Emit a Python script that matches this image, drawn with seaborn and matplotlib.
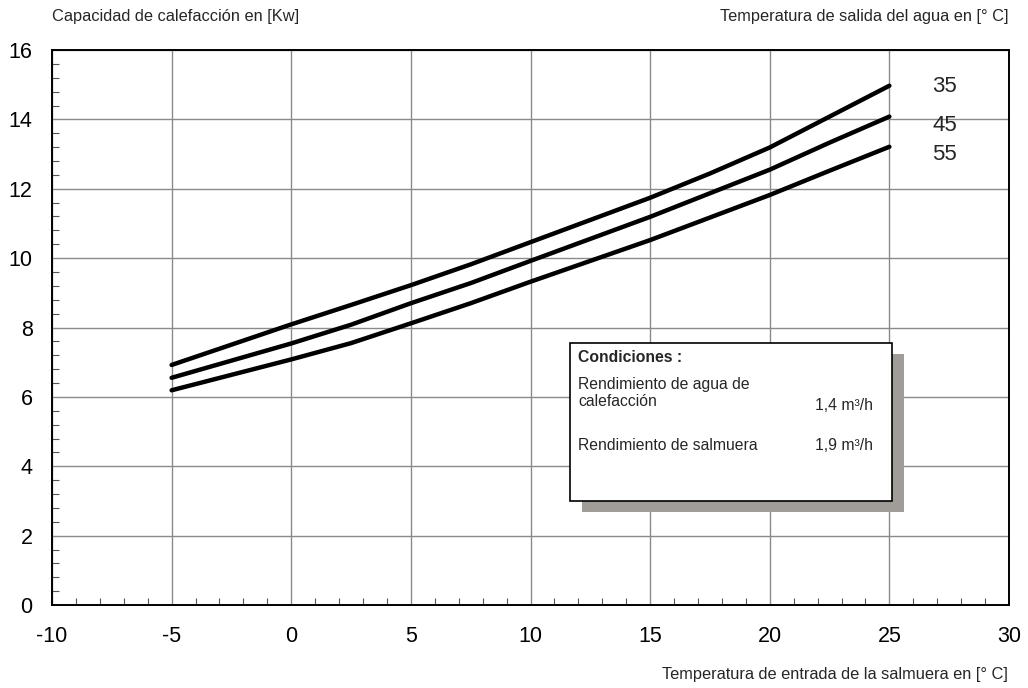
import matplotlib
matplotlib.use("Agg")
import matplotlib.pyplot as plt
import matplotlib.patches as mpatches
from matplotlib.ticker import MultipleLocator
import seaborn as sns
import pandas as pd

# ---- data ----
brine_temp = [-5, 0, 2.5, 5, 7.5, 10, 15, 17.5, 20, 22.5, 25]
cap_35 = [6.92, 8.09, 8.65, 9.22, 9.82, 10.46, 11.74, 12.44, 13.19, 14.08, 14.97]
cap_45 = [6.55, 7.54, 8.08, 8.70, 9.28, 9.92, 11.19, 11.87, 12.55, 13.33, 14.08]
cap_55 = [6.19, 7.08, 7.55, 8.12, 8.70, 9.32, 10.52, 11.17, 11.82, 12.52, 13.21]
series_labels = ["35", "45", "55"]
x_ticks = [-10, -5, 0, 5, 10, 15, 20, 25, 30]
y_ticks = [0, 2, 4, 6, 8, 10, 12, 14, 16]

rows = []
for lab, vals in zip(series_labels, [cap_35, cap_45, cap_55]):
    for x, v in zip(brine_temp, vals):
        rows.append({"x": x, "y": v, "serie": lab})
df = pd.DataFrame(rows)

sns.set_style("white")
plt.rcParams['font.family'] = ['Liberation Sans', 'DejaVu Sans']

fig = plt.figure(figsize=(10.28, 6.88), dpi=100)
ax = fig.add_axes([52/1028, 83/688, 957/1028, 555/688])

sns.lineplot(data=df, x="x", y="y", hue="serie", palette=["black"] * 3,
             linewidth=3.2, legend=False, ax=ax, zorder=3)

ax.set_xlim(-10, 30)
ax.set_ylim(0, 16)
ax.set_xticks(x_ticks)
ax.set_yticks(y_ticks)
ax.set_xticklabels([str(t) for t in x_ticks])
ax.set_yticklabels([str(t) for t in y_ticks])
ax.xaxis.set_minor_locator(MultipleLocator(1))
ax.yaxis.set_minor_locator(MultipleLocator(0.4))
ax.tick_params(axis="both", which="major", length=0, labelsize=15.5, colors="black")
ax.tick_params(axis="x", which="major", pad=15)
ax.tick_params(axis="y", which="major", pad=14)
ax.tick_params(axis="x", which="minor", direction="in", length=5, width=0.8, bottom=True, top=False, color="#555555")
ax.tick_params(axis="y", which="minor", direction="in", length=5, width=0.8, left=True, right=False, color="#555555")
ax.grid(True, which="major", color="#8a8a8a", linewidth=1.0)
ax.set_xlabel("")
ax.set_ylabel("")
for s in ax.spines.values():
    s.set_visible(True)
    s.set_color("black")
    s.set_linewidth(1.4)

# curve labels
label_y = [14.96, 13.82, 13.0]
for lab, yy in zip(series_labels, label_y):
    ax.text(27.3, yy, lab, fontsize=16, ha="center", va="center", zorder=4)

# axis titles
fig.text(52/1028, 1 - 17/688, "Capacidad de calefacción en [Kw]", fontsize=11.8, ha="left", va="center")
fig.text(1008/1028, 1 - 17/688, "Temperatura de salida del agua en [° C]", fontsize=11.8, ha="right", va="center")
fig.text(1008/1028, 1 - 675/688, "Temperatura de entrada de la salmuera en [° C]", fontsize=11.8, ha="right", va="center")

# conditions box with shadow
bx, by, bw, bh = 518/957, 104/555, 322/957, 158/555
sdx, sdy = 12/957, -11/555
shadow = mpatches.Rectangle((bx + sdx, by + sdy), bw, bh, transform=ax.transAxes,
                            facecolor="#a09c98", edgecolor="none", zorder=5)
box = mpatches.Rectangle((bx, by), bw, bh, transform=ax.transAxes,
                         facecolor="white", edgecolor="black", linewidth=1.2, zorder=6)
ax.add_patch(shadow)
ax.add_patch(box)

def ax_y(py):
    return (605 - py) / 555

def ax_x(px):
    return (px - 52) / 957

fs = 11.3
ax.text(ax_x(578), ax_y(357), "Condiciones :", fontsize=fs, fontweight="bold",
        ha="left", va="center", transform=ax.transAxes, zorder=7)
ax.text(ax_x(578), ax_y(384), "Rendimiento de agua de", fontsize=fs,
        ha="left", va="center", transform=ax.transAxes, zorder=7)
ax.text(ax_x(578), ax_y(402), "calefacción", fontsize=fs,
        ha="left", va="center", transform=ax.transAxes, zorder=7)
ax.text(ax_x(873), ax_y(406), "1,4 m³/h", fontsize=fs,
        ha="right", va="center", transform=ax.transAxes, zorder=7)
ax.text(ax_x(578), ax_y(446), "Rendimiento de salmuera", fontsize=fs,
        ha="left", va="center", transform=ax.transAxes, zorder=7)
ax.text(ax_x(873), ax_y(446), "1,9 m³/h", fontsize=fs,
        ha="right", va="center", transform=ax.transAxes, zorder=7)

fig.savefig("out.png", dpi=100)
